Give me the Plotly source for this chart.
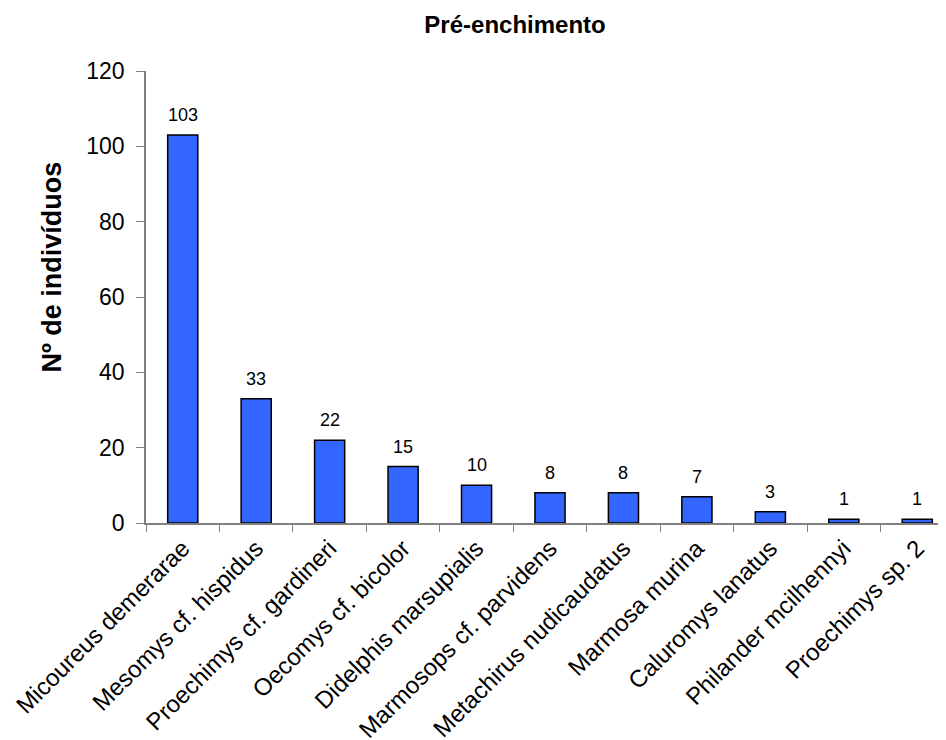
import plotly.graph_objects as go

species = ["Micoureus demerarae", "Mesomys cf. hispidus", "Proechimys cf. gardineri",
           "Oecomys cf. bicolor", "Didelphis marsupialis", "Marmosops cf. parvidens",
           "Metachirus nudicaudatus", "Marmosa murina", "Caluromys lanatus",
           "Philander mcilhennyi", "Proechimys sp. 2"]
counts = [103, 33, 22, 15, 10, 8, 8, 7, 3, 1, 1]
y_ticks = [0, 20, 40, 60, 80, 100, 120]

FONT = "Liberation Sans, Arial, sans-serif"

fig = go.Figure()
fig.add_trace(go.Bar(
    x=species, y=counts,
    marker=dict(color="#3366FF", line=dict(color="black", width=1.5)),
    width=0.41,
))

for s, c in zip(species, counts):
    fig.add_annotation(x=s, y=c, text=str(c), showarrow=False,
                       yanchor="bottom", yshift=8,
                       font=dict(family=FONT, size=18, color="black"))

fig.add_annotation(xref="paper", yref="paper", x=0, y=0.565, xshift=-94,
                   text="<b>Nº de indivíduos</b>", textangle=-90, showarrow=False,
                   xanchor="center", yanchor="middle",
                   font=dict(family=FONT, size=27, color="black"))

fig.update_layout(
    width=946, height=740,
    paper_bgcolor="white", plot_bgcolor="white",
    margin=dict(l=138, r=0, t=63, b=225),
    showlegend=False,
    title=dict(text="<b>Pré-enchimento</b>", x=0.536, xanchor="center",
               y=1 - 17 / 740, yanchor="middle", yref="container",
               font=dict(family=FONT, size=24, color="black")),
    font=dict(family=FONT, color="black"),
)

fig.update_xaxes(
    type="category", tickangle=-45, tickson="boundaries",
    ticks="outside", ticklen=7, tickcolor="#808080",
    showline=True, linecolor="#808080", linewidth=1.5,
    showgrid=False, tickfont=dict(family=FONT, size=24, color="black"),
)
fig.update_yaxes(
    range=[0, 120], tickvals=y_ticks, ticktext=[str(v) for v in y_ticks],
    ticks="outside", ticklen=8, tickcolor="#808080", ticklabelstandoff=7,
    showline=True, linecolor="#808080", linewidth=1.5,
    showgrid=False, zeroline=False,
    tickfont=dict(family=FONT, size=23, color="black"),
)

fig.write_html("out.html")
